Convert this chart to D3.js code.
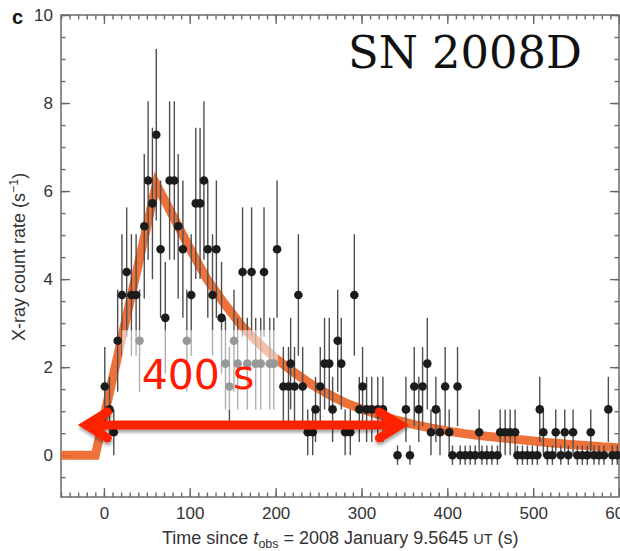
<!DOCTYPE html>
<html>
<head>
<meta charset="utf-8">
<script src="https://cdn.jsdelivr.net/npm/d3@7"></script>
<style>
body {margin: 0; background: #fff;}
svg {display: block; font-family: "Liberation Sans", Arial, sans-serif;}
.axis .tick text {font-size: 17px; fill: #333;}
.axis .tick line {stroke: #6a6a6a; stroke-width: 1.4;}
</style>
</head>
<body>
<div id="chart"></div>
<script>
// SN 2008D X-ray light curve
var timeS = [1, 6.5, 11.5, 16, 21, 26.5, 32, 37.5, 41.5, 47, 51.5, 56.5, 61, 66, 71.5, 76.5, 82, 86.5, 92, 96.6,
    101.7, 107, 112, 116.5, 121, 126.5, 131, 137, 141.6, 146.2, 151.5, 155.8, 161.5, 167, 172, 176.8, 182.7, 186.5, 193.2, 197.9,
    201.7, 209, 215, 217.5, 222, 226.5, 231.5, 237.4, 243.2, 246.5, 252, 257, 262.5, 266.4, 272.3, 276.5, 281, 287, 291.7, 297.5,
    301.3, 306, 312, 319, 325, 342, 351.8, 356.5, 361.5, 366.8, 371.2, 376.7, 381, 386.7, 391.5, 397.5, 402.2, 406, 411.9, 415,
    420.8, 426.7, 432.5, 437.1, 440.3, 446.1, 451.9, 458.4, 461.6, 467.4, 473.2, 479, 481.7, 487.5, 493.3, 499.1, 504.9, 507.7, 511.9, 516.6,
    522.4, 526.3, 532.2, 536.8, 541, 546.5, 551.5, 557.3, 563.1, 567.1, 570.9, 576.7, 582.5, 587.6, 592.2, 598];
var rate = [1.56, 1.04, 0.52, 2.6, 3.64, 4.16, 3.64, 3.64, 2.6, 5.2, 6.24, 5.72, 7.28, 4.68, 3.12, 6.24, 6.24, 5.2, 4.68, 2.6,
    3.64, 5.72, 5.72, 6.24, 4.68, 3.64, 4.68, 3.12, 2.08, 1.56, 2.6, 2.08, 4.16, 2.08, 4.16, 2.08, 2.08, 4.16, 2.08, 2.08,
    4.68, 1.56, 1.56, 2.08, 1.56, 3.64, 1.56, 0.52, 0.52, 1.04, 1.56, 2.08, 2.08, 1.04, 2.6, 2.08, 0.52, 0.52, 3.64, 1.04,
    1.56, 1.04, 1.04, 1.04, 1.04, 0, 1.04, 0, 1.56, 1.04, 1.56, 2.08, 0.52, 1.04, 0.52, 1.56, 0.52, 0, 1.56, 0,
    0, 0, 0, 0.52, 0, 0, 0, 0, 0.52, 0.52, 0.52, 0.52, 0, 0, 0, 0, 0, 1.04, 0.52, 0,
    0, 0.52, 0, 0.52, 0, 0.52, 0, 0, 0, 0.52, 0, 0, 0, 1.04, 0, 0];
var rateErr = [0.9, 0.74, 0.52, 1.16, 1.38, 1.47, 1.38, 1.38, 1.16, 1.64, 1.8, 1.72, 1.95, 1.56, 1.27, 1.8, 1.8, 1.64, 1.56, 1.16,
    1.38, 1.72, 1.72, 1.8, 1.56, 1.38, 1.56, 1.27, 1.04, 0.9, 1.16, 1.04, 1.47, 1.04, 1.47, 1.04, 1.04, 1.47, 1.04, 1.04,
    1.56, 0.9, 0.9, 1.04, 0.9, 1.38, 0.9, 0.52, 0.52, 0.74, 0.9, 1.04, 1.04, 0.74, 1.16, 1.04, 0.52, 0.52, 1.38, 0.74,
    0.9, 0.74, 0.74, 0.74, 0.74, 0.22, 0.74, 0.22, 0.9, 0.74, 0.9, 1.04, 0.52, 0.74, 0.52, 0.9, 0.52, 0.22, 0.9, 0.22,
    0.22, 0.22, 0.22, 0.52, 0.22, 0.22, 0.22, 0.22, 0.52, 0.52, 0.52, 0.52, 0.22, 0.22, 0.22, 0.22, 0.22, 0.74, 0.52, 0.22,
    0.22, 0.52, 0.22, 0.52, 0.22, 0.52, 0.22, 0.22, 0.22, 0.52, 0.22, 0.22, 0.22, 0.74, 0.22, 0.22];

// fitted model (orange)
var curveT = [-50, -10, 61, 80, 100, 120, 140, 160, 180, 200, 220, 240, 260, 280, 300,
    320, 340, 360, 380, 400, 420, 440, 460, 480, 500, 520, 540, 560, 580, 600];
var curveRate = [0, 0, 6.15, 5.45, 4.7, 4.0, 3.45, 2.95, 2.55, 2.2, 1.9, 1.63, 1.4, 1.2, 1.05,
    0.92, 0.8, 0.7, 0.62, 0.55, 0.49, 0.44, 0.4, 0.36, 0.32, 0.28, 0.25, 0.22, 0.19, 0.17];

var xTicks = [0, 100, 200, 300, 400, 500, 600];
var yTicks = [0, 2, 4, 6, 8, 10];

// annotation anchors in data units
var arrowT = [-29.8, 354.6], arrowRate = 0.686;
var boxT = [21, 202.8], boxRate = [2.84, 1.03];

var margin = {t: 15, r: 1, b: 54, l: 61};
var W = 620, H = 551;
var width = W - margin.l - margin.r,
    height = H - margin.t - margin.b;

var svg = d3.select('#chart').append('svg')
    .attr('width', W)
    .attr('height', H);

var defs = svg.append('defs');
defs.append('filter').attr('id', 'shadow').attr('x', '-10%').attr('y', '-50%').attr('width', '120%').attr('height', '200%')
    .append('feDropShadow').attr('dx', 0.5).attr('dy', 3).attr('stdDeviation', 1.6)
    .attr('flood-color', '#000').attr('flood-opacity', 0.35);

var scaleX = d3.scaleLinear().domain([-50, 600]).range([0, width]);
var scaleY = d3.scaleLinear().domain([-0.95, 10]).range([height, 0]);

var plot = svg.append('g').attr('transform', 'translate(' + margin.l + ',' + margin.t + ')');

// axes: ticks point inward on all four sides
var xMinor = d3.range(-50, 601, 10),
    yMinor = d3.range(-0.5, 10.01, 0.5);

function drawAxis(axis, tr) {
    var g = plot.append('g').attr('class', 'axis').attr('transform', tr).call(axis);
    g.select('.domain').remove();
    return g;
}
drawAxis(d3.axisBottom(scaleX).tickValues(xMinor).tickSizeInner(-4.5).tickSizeOuter(0).tickFormat(''), 'translate(0,' + height + ')');
drawAxis(d3.axisBottom(scaleX).tickValues(xTicks).tickSizeInner(-9).tickSizeOuter(0).tickPadding(10), 'translate(0,' + height + ')');
drawAxis(d3.axisTop(scaleX).tickValues(xMinor).tickSizeInner(-4.5).tickSizeOuter(0).tickFormat(''), 'translate(0,0)');
drawAxis(d3.axisTop(scaleX).tickValues(xTicks).tickSizeInner(-9).tickSizeOuter(0).tickFormat(''), 'translate(0,0)');
drawAxis(d3.axisLeft(scaleY).tickValues(yMinor).tickSizeInner(-4.5).tickSizeOuter(0).tickFormat(''), 'translate(0,0)');
drawAxis(d3.axisLeft(scaleY).tickValues(yTicks).tickSizeInner(-9).tickSizeOuter(0).tickPadding(8), 'translate(0,0)');
drawAxis(d3.axisRight(scaleY).tickValues(yMinor).tickSizeInner(-4.5).tickSizeOuter(0).tickFormat(''), 'translate(' + width + ',0)');
drawAxis(d3.axisRight(scaleY).tickValues(yTicks).tickSizeInner(-9).tickSizeOuter(0).tickFormat(''), 'translate(' + width + ',0)');

plot.append('rect')
    .attr('width', width).attr('height', height)
    .attr('fill', 'none').attr('stroke', '#6a6a6a').attr('stroke-width', 1.5);

// model curve
var lineModel = d3.line()
    .x(function(d, i) { return scaleX(curveT[i]); })
    .y(function(d) { return scaleY(d); });

plot.append('path')
    .datum(curveRate)
    .attr('d', lineModel)
    .attr('fill', 'none')
    .attr('stroke', '#ee6529')
    .attr('stroke-opacity', 0.92)
    .attr('stroke-width', 9)
    .attr('stroke-linejoin', 'miter');

// error bars + points
plot.append('g').selectAll('line')
    .data(rate)
    .enter()
    .append('line')
    .attr('x1', function(d, i) { return scaleX(timeS[i]); })
    .attr('x2', function(d, i) { return scaleX(timeS[i]); })
    .attr('y1', function(d, i) { return scaleY(d - rateErr[i]); })
    .attr('y2', function(d, i) { return scaleY(d + rateErr[i]); })
    .attr('stroke', '#4e4e4e')
    .attr('stroke-width', 1.4);

plot.append('g').selectAll('circle')
    .data(rate)
    .enter()
    .append('circle')
    .attr('cx', function(d, i) { return scaleX(timeS[i]); })
    .attr('cy', function(d) { return scaleY(d); })
    .attr('r', 4.3)
    .attr('fill', '#1c1c1c');

// translucent label box that greys out the points under "400 s"
plot.append('rect')
    .attr('x', scaleX(boxT[0]))
    .attr('y', scaleY(boxRate[0]))
    .attr('width', scaleX(boxT[1]) - scaleX(boxT[0]))
    .attr('height', scaleY(boxRate[1]) - scaleY(boxRate[0]))
    .attr('fill', '#fff')
    .attr('fill-opacity', 0.55);

plot.append('text')
    .attr('x', scaleX(44))
    .attr('y', scaleY(1.5))
    .attr('font-family', '"DejaVu Sans", sans-serif')
    .attr('font-size', 41)
    .attr('fill', '#ff1a00')
    .text('400 s');

// double arrow
var ay = scaleY(arrowRate),
    xL = scaleX(arrowT[0]),
    xR = scaleX(arrowT[1]);
var arrow = plot.append('g')
    .attr('filter', 'url(#shadow)')
    .attr('stroke', '#ff2400')
    .attr('fill', 'none')
    .attr('stroke-width', 9);
arrow.append('line')
    .attr('x1', xL + 8).attr('x2', xR - 8)
    .attr('y1', ay).attr('y2', ay);
arrow.append('path')
    .attr('d', 'M' + (xL + 29) + ',' + (ay - 13) + 'L' + (xL + 8) + ',' + ay + 'L' + (xL + 29) + ',' + (ay + 13))
    .attr('stroke-linecap', 'round').attr('stroke-linejoin', 'miter');
arrow.append('path')
    .attr('d', 'M' + (xR - 29) + ',' + (ay - 13) + 'L' + (xR - 8) + ',' + ay + 'L' + (xR - 29) + ',' + (ay + 13))
    .attr('stroke-linecap', 'round').attr('stroke-linejoin', 'miter');

// title inside the plot
plot.append('text')
    .attr('x', scaleX(284.3))
    .attr('y', scaleY(8.8))
    .attr('font-family', '"DejaVu Serif", serif')
    .attr('font-size', 44)
    .attr('textLength', 234)
    .attr('lengthAdjust', 'spacingAndGlyphs')
    .attr('fill', '#111')
    .text('SN 2008D');

// panel letter
svg.append('text')
    .attr('x', 12).attr('y', 24)
    .attr('font-size', 20).attr('font-weight', 'bold').attr('fill', '#111')
    .text('c');

// axis titles
var yLab = svg.append('text')
    .attr('transform', 'translate(25,341) rotate(-90)')
    .attr('font-size', 18).attr('fill', '#333');
yLab.append('tspan').text('X-ray count rate (s');
yLab.append('tspan').attr('font-size', 12.5).attr('dy', -7).text('\u22121');
yLab.append('tspan').attr('dy', 7).text(')');

var xLab = svg.append('text')
    .attr('x', 162).attr('y', 544)
    .attr('font-size', 18).attr('fill', '#333');
xLab.append('tspan').text('Time since ');
xLab.append('tspan').attr('font-style', 'italic').text('t');
xLab.append('tspan').attr('font-size', 12.5).attr('dy', 4).text('obs');
xLab.append('tspan').attr('dy', -4).text(' = 2008 January 9.5645 ');
xLab.append('tspan').attr('font-size', 14.5).text('UT');
xLab.append('tspan').text(' (s)');
</script>
</body>
</html>
